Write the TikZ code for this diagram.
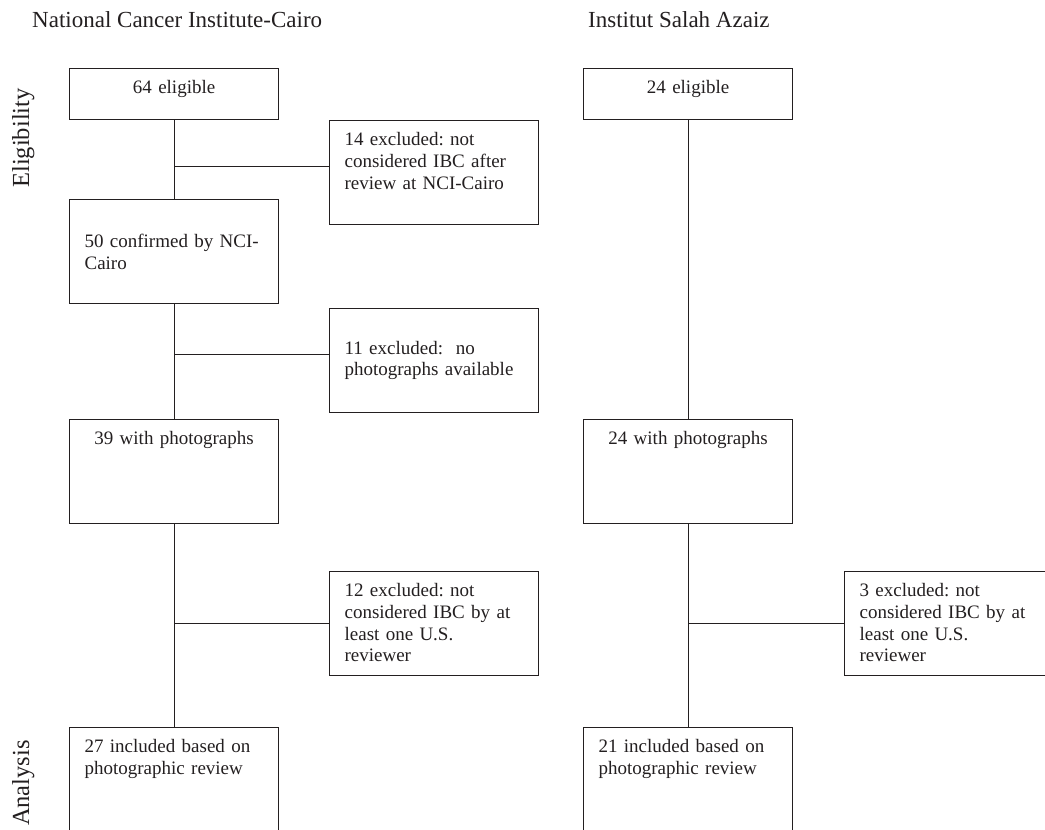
\documentclass[tikz,border=0pt]{standalone}
\usepackage{fontspec}
\setmainfont{Liberation Serif}
\usepackage{xcolor}
\usetikzlibrary{positioning}
\definecolor{ink}{HTML}{231F20}
\frenchspacing
\tikzset{
  box/.style={draw=ink, text=ink, line width=1.2pt, anchor=north west, minimum width=209pt, minimum height=104pt,
    text width=179pt, inner xsep=15pt, align=left, font=\fontsize{19}{21.7}\selectfont},
  shortbox/.style={minimum height=51pt},
  toptext/.style={inner ysep=12pt, text height=13pt, text depth=#1},
  head/.style={text=ink, inner sep=0pt, font=\fontsize{23}{27}\selectfont},
  side/.style={text=ink, inner sep=0pt, rotate=90, font=\fontsize{24.5}{29}\selectfont},
  link/.style={draw=ink, line width=1.2pt}
}
\begin{document}
\begin{tikzpicture}[x=1pt,y=-1pt]
       \useasboundingbox (0,0) rectangle (1045,830);
       % headings
       \node[head, anchor=base west] (hNCI) at (32,27) {National Cancer Institute-Cairo};
       \node[head, anchor=base west] (hSAL) at (588,27) {Institut Salah Azaiz};
       \node[side, anchor=base] (elig) at (29,138) {Eligibility};
       \node[side, anchor=base east] (anal) at (29,740) {Analysis};
       % NCI-Cairo
       \node[box, shortbox, toptext=14pt, align=center] (nci1) at (69,68) {64 eligible};
       \node[box, toptext=67pt] (nciX1) at (329,120) {14 excluded: not\\considered IBC after\\review at NCI-Cairo};
       \node[box] (nci2) at (69,199) {50 confirmed by NCI-\\Cairo};
       \node[box] (nciX2) at (329,308) {11 excluded:~ no\\photographs available};
       \node[box, toptext=67pt, align=center] (nci3) at (69,419) {39 with photographs};
       \node[box, toptext=67pt] (nciX3) at (329,571) {12 excluded: not\\considered IBC by at\\least one U.S.\\reviewer};
       \node[box, toptext=67pt] (nci4) at (69,727) {27 included based on\\photographic review};
       % Salah Azaiz
       \node[box, shortbox, toptext=14pt, align=center] (sal1) at (583,68) {24 eligible};
       \node[box, toptext=67pt, align=center] (sal3) at (583,419) {24 with photographs};
       \node[box, toptext=67pt] (salX3) at (844,571) {3 excluded: not\\considered IBC by at\\least one U.S.\\reviewer};
       \node[box, toptext=67pt] (sal4) at (583,727) {21 included based on\\photographic review};
       % connectors
       \path ([yshift=6pt]nciX1.west) coordinate (e1) ([yshift=6pt]nciX2.west) coordinate (e2);
       \draw[link] (nci1) -- (nci2) (nci2) -- (nci3) (nci3) -- (nci4);
       \draw[link] (e1) -- (e1 -| nci1) (e2) -- (e2 -| nci2) (nciX3.west) -- (nciX3.west -| nci3);
       \draw[link] (sal1) -- (sal3) (sal3) -- (sal4) (salX3.west) -- (salX3.west -| sal3);
\end{tikzpicture}
\end{document}
